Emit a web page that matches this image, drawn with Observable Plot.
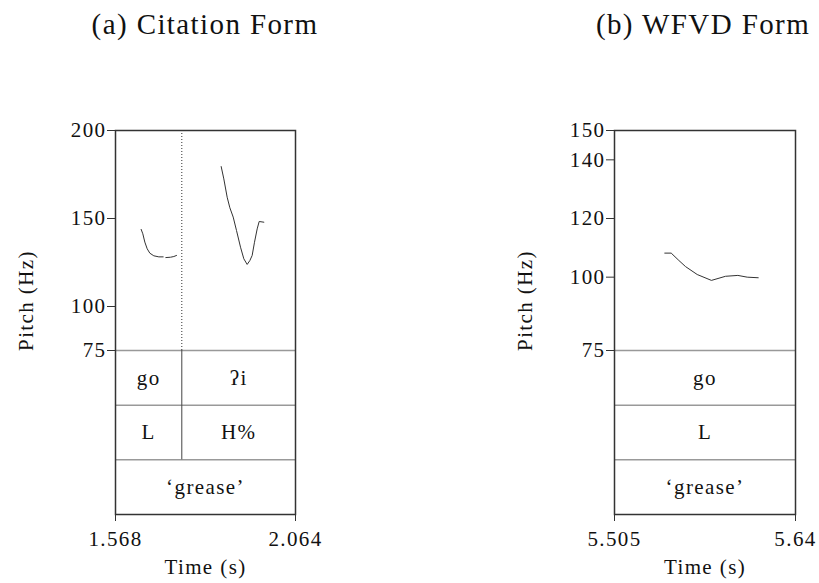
<!DOCTYPE html>
<html><head><meta charset="utf-8">
<script src="https://cdn.jsdelivr.net/npm/d3@7"></script>
<script src="https://cdn.jsdelivr.net/npm/@observablehq/plot@0.6"></script>
<style>
body{margin:0;background:#fff;}
#wrap{position:relative;width:819px;height:583px;overflow:hidden;background:#fff;}
.title{position:absolute;top:8px;font-family:"Liberation Serif",serif;font-size:29px;letter-spacing:1.4px;color:#111;white-space:nowrap;transform:translateX(-50%);}
.panel{position:absolute;top:0;}
.panel svg{overflow:visible;}
</style></head><body>
<div id="wrap"></div>
<script>
// ---------- data ----------
const panelTitles = ["(a) Citation Form", "(b) WFVD Form"];

// (a) citation form pitch track (s, Hz); segment id separates voiced stretches
const citationTime = [1.6387, 1.6433, 1.6488, 1.6553, 1.6626, 1.6736, 1.6874, 1.6994,
  1.7067, 1.7196, 1.7287, 1.7361,
  1.8592, 1.8665, 1.8757, 1.8831, 1.8923, 1.9014, 1.9125, 1.9216, 1.9308, 1.9382, 1.9446, 1.9510, 1.9584, 1.9639, 1.9767];
const citationPitch = [143.8, 141.3, 136.6, 132.8, 130.3, 128.8, 128.2, 128.2,
  127.8, 128.0, 128.4, 129.0,
  179.5, 172.5, 162.1, 156.1, 150.8, 143.2, 133.7, 127.1, 123.9, 126.1, 129.0, 136.5, 144.1, 148.3, 147.9];
const citationSegment = [1,1,1,1,1,1,1,1, 2,2,2,2, 3,3,3,3,3,3,3,3,3,3,3,3,3,3,3];
const citationXDomain = [1.568, 2.064];
const citationXTickLabels = ["1.568", "2.064"];
const citationYTop = 200;
const citationYTicks = [75, 100, 150, 200];
const citationEdges = [1.568, 1.7507, 2.064];
const citationSyllables = ["go", "ʔi"];
const citationTones = ["L", "H%"];
const citationGloss = ["‘grease’"];

// (b) WFVD form pitch track
const wfvdTime = [5.5425, 5.5473, 5.5530, 5.5580, 5.5667, 5.5773, 5.5878, 5.5970, 5.6040, 5.6122];
const wfvdPitch = [108.2, 108.2, 105.7, 103.6, 100.9, 98.9, 100.3, 100.6, 100.0, 99.8];
const wfvdSegment = [1,1,1,1,1,1,1,1,1,1];
const wfvdXDomain = [5.505, 5.64];
const wfvdXTickLabels = ["5.505", "5.64"];
const wfvdYTop = 150;
const wfvdYTicks = [75, 100, 120, 140, 150];
const wfvdEdges = [5.505, 5.64];
const wfvdSyllables = ["go"];
const wfvdTones = ["L"];
const wfvdGloss = ["‘grease’"];

const yFloor = 75;
const yLabel = "Pitch (Hz)";
const xLabel = "Time (s)";

// ---------- layout ----------
const H = 583, MT = 130, MB = 69;
const pitchPx = 220, tierPx = 164;   // pitch area and 3 tiers below
const FONT = "Liberation Serif";
const FS = 21;

function panel(cfg) {
  const lo = yFloor - (tierPx / pitchPx) * (cfg.yTop - yFloor);
  const d = (yFloor - lo) / 3;
  const pts = cfg.time.map((t, i) => ({t, f: cfg.pitch[i], seg: cfg.segment[i]}));
  const mid = (e, i) => (e[i] + e[i + 1]) / 2;
  const tierText = (labels, row, edges) => Plot.text(labels, {
    x: (v, i) => labels.length === 1 ? (edges[0] + edges[edges.length - 1]) / 2 : mid(edges, i),
    y: () => yFloor - (row + 0.5) * d,
    fontSize: FS, fill: "#111", fontFamily: FONT
  });
  const inner = cfg.edges.slice(1, -1);
  return Plot.plot({
    width: cfg.width, height: H,
    marginTop: MT, marginBottom: MB, marginLeft: cfg.ml, marginRight: cfg.mr,
    style: {fontFamily: FONT, fontSize: FS + "px", letterSpacing: "1.4px", color: "#111", overflow: "visible", background: "transparent"},
    x: {domain: cfg.xDomain, axis: null},
    y: {domain: [lo, cfg.yTop], axis: null},
    marks: [
      Plot.ruleY([yFloor, yFloor - d, yFloor - 2 * d], {stroke: "#999", strokeWidth: 1.5}),
      Plot.ruleX(inner, {y1: yFloor, y2: cfg.yTop, stroke: "#333", strokeWidth: 1, strokeDasharray: "1,2"}),
      Plot.ruleX(inner, {y1: yFloor - 2 * d, y2: yFloor, stroke: "#444", strokeWidth: 1}),
      Plot.frame({stroke: "#333", strokeWidth: 1.5}),
      Plot.line(pts, {x: "t", y: "f", z: "seg", stroke: "#333", strokeWidth: 1}),
      tierText(cfg.syllables, 0, cfg.edges),
      tierText(cfg.tones, 1, cfg.edges),
      tierText(cfg.gloss, 2, cfg.edges),
      Plot.axisY(cfg.yTicks, {tickSize: 8, tickPadding: 1, fontSize: FS, fontFamily: FONT, label: null, stroke: "#333"}),
      Plot.axisX(cfg.xDomain, {tickSize: 7, tickPadding: 10, fontSize: FS, fontFamily: FONT, label: null, stroke: "#333",
        tickFormat: v => cfg.xLabels[cfg.xDomain.indexOf(v)]}),
      Plot.text([yLabel], {frameAnchor: "left", textAnchor: "middle", lineAnchor: "middle", dx: -89, dy: -22, rotate: -90, fontSize: FS, fontFamily: FONT, fill: "#111"}),
      Plot.text([xLabel], {frameAnchor: "bottom", textAnchor: "middle", lineAnchor: "middle", dy: 53, fontSize: FS, fontFamily: FONT, fill: "#111"})
    ]
  });
}

const wrap = document.getElementById("wrap");
const configs = [
  {left: 0, width: 410, ml: 115, mr: 115, time: citationTime, pitch: citationPitch, segment: citationSegment,
   xDomain: citationXDomain, xLabels: citationXTickLabels, yTop: citationYTop, yTicks: citationYTicks,
   edges: citationEdges, syllables: citationSyllables, tones: citationTones, gloss: citationGloss, titleX: 205},
  {left: 410, width: 409, ml: 204, mr: 24, time: wfvdTime, pitch: wfvdPitch, segment: wfvdSegment,
   xDomain: wfvdXDomain, xLabels: wfvdXTickLabels, yTop: wfvdYTop, yTicks: wfvdYTicks,
   edges: wfvdEdges, syllables: wfvdSyllables, tones: wfvdTones, gloss: wfvdGloss, titleX: 703}
];
configs.forEach((cfg, i) => {
  const div = document.createElement("div");
  div.className = "panel";
  div.style.left = cfg.left + "px";
  div.appendChild(panel(cfg));
  wrap.appendChild(div);
  const t = document.createElement("div");
  t.className = "title";
  t.style.left = cfg.titleX + "px";
  t.textContent = panelTitles[i];
  wrap.appendChild(t);
});
</script>
</body></html>
